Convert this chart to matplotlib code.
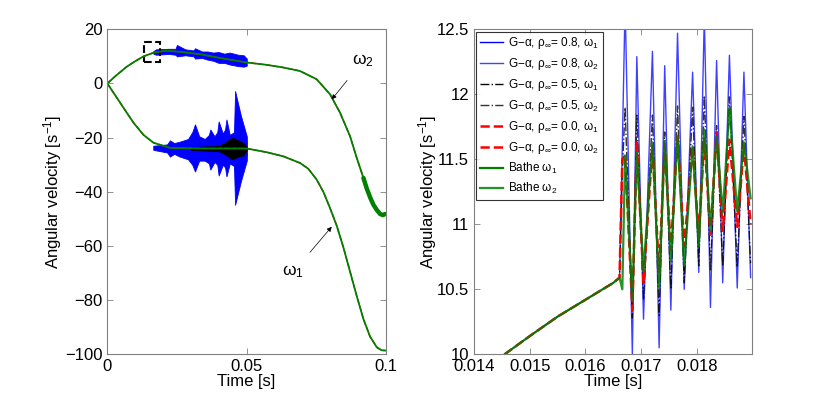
import numpy as np
import matplotlib
matplotlib.use('Agg')
import matplotlib.pyplot as plt
from matplotlib.patches import Rectangle

plt.rcParams['font.family'] = ['Liberation Sans', 'DejaVu Sans']
plt.rcParams['mathtext.fontset'] = 'custom'
plt.rcParams['mathtext.rm'] = 'Liberation Sans'
plt.rcParams['mathtext.it'] = 'Liberation Sans'

# ---- left panel: whole run, 0 .. 0.1 s ----
t_w2 = [0, 0.003, 0.007, 0.010, 0.013, 0.017, 0.0213, 0.027, 0.0333, 0.040, 0.050,
        0.057, 0.0632, 0.0692, 0.0752, 0.080, 0.0836, 0.0872, 0.0896, 0.092]
w2 = [0, 2.8, 6.2, 8.2, 10.0, 11.5, 12.1, 11.6, 10.8, 9.5, 7.75,
      6.9, 5.9, 4.6, 1.56, -4.0, -10.8, -19.5, -27.5, -34.9]
# wobbly end of omega_2 (thick green band)
t_w2_end = [0.092, 0.0932, 0.0945, 0.0956, 0.0968, 0.098, 0.099, 0.0998]
w2_end = [-34.9, -38.8, -42.3, -44.8, -46.7, -48.2, -48.6, -48.2]

t_w1 = [0, 0.0046, 0.0094, 0.0130, 0.0166, 0.0226, 0.0333, 0.050, 0.0573, 0.0632,
        0.0693, 0.0722, 0.0752, 0.0776, 0.080, 0.0824, 0.0848, 0.0872, 0.0896, 0.092,
        0.0944, 0.0968, 0.0985, 0.0998]
w1 = [0, -7.1, -14.5, -19.0, -21.9, -23.8, -24.0, -24.0, -25.4, -26.9,
      -29.4, -31.5, -35.5, -40.0, -46.0, -52.5, -60.5, -69.5, -78.5, -87.0,
      -93.5, -97.4, -98.5, -98.6]

# blue (rho=0.8) oscillation envelopes
t_band1 = [0.0165, 0.0215, 0.0225, 0.0240, 0.0260, 0.0290, 0.0305, 0.0315, 0.0330, 0.0350,
           0.0365, 0.0370, 0.0385, 0.0395, 0.0400, 0.0415, 0.0423, 0.0428, 0.0440, 0.0455,
           0.0459, 0.0480, 0.0501, 0.0502]
up_band1 = [-23.0, -22.5, -21.0, -22.0, -21.5, -20.5, -18.0, -15.1, -19.5, -20.5,
            -19.0, -17.0, -19.5, -18.0, -14.0, -18.5, -17.0, -13.3, -19.0, -18.0,
            -2.8, -12.0, -19.5, -24.0]
lo_band1 = [-24.5, -25.5, -27.0, -26.0, -27.0, -28.0, -30.0, -32.5, -28.5, -28.5,
            -29.5, -31.8, -29.0, -30.0, -34.0, -30.0, -31.0, -34.3, -29.5, -30.5,
            -44.8, -36.0, -28.5, -24.0]
t_band2 = [0.0165, 0.0175, 0.0220, 0.0245, 0.0250, 0.0280, 0.0310, 0.0315, 0.0340, 0.0360,
           0.0380, 0.0400, 0.0420, 0.0440, 0.0470, 0.0490, 0.0501]
up_band2 = [11.9, 12.6, 12.8, 12.8, 14.2, 12.6, 12.2, 13.0, 11.8, 11.8,
            11.4, 11.6, 11.0, 11.4, 10.6, 10.4, 9.2]
lo_band2 = [11.0, 10.6, 10.9, 10.6, 10.0, 10.4, 10.0, 9.2, 9.4, 8.8,
            8.4, 7.6, 7.6, 7.0, 6.4, 6.2, 6.6]
# black (rho=0.5) envelope on omega_1
t_band_k = [0.0300, 0.0400, 0.0420, 0.0440, 0.0450, 0.0470, 0.0490, 0.0501]
up_band_k = [-23.5, -23.0, -22.0, -20.5, -20.0, -21.0, -22.0, -23.5]
lo_band_k = [-24.5, -25.0, -26.0, -27.5, -28.0, -27.0, -26.5, -24.5]

# ---- right panel: zoom on omega_2 ----
t_ramp = [0.01455, 0.0150, 0.0155, 0.0160, 0.0165, 0.01661]
w2_ramp = [10.0, 10.14, 10.29, 10.42, 10.55, 10.59]
t_osc = [0.01666, 0.01671, 0.01684, 0.01692, 0.01704, 0.01720, 0.01732, 0.01742, 0.01753,
         0.01765, 0.01777, 0.01792, 0.01803, 0.01813, 0.01824, 0.01835, 0.01846, 0.01858,
         0.01872, 0.01884, 0.01896]
osc_08 = [11.6, 12.7, 10.0, 12.29, 10.27, 12.33, 10.05, 12.22, 10.34, 12.47, 10.5,
          12.17, 10.63, 12.6, 10.36, 12.26, 10.55, 12.3, 10.51, 12.17, 10.59]
osc_05 = [11.4, 11.9, 10.28, 11.84, 10.42, 11.84, 10.3, 11.71, 10.5, 11.91, 10.55,
          11.9, 10.68, 11.99, 10.65, 11.76, 10.68, 11.98, 10.67, 11.83, 10.7]
osc_00 = [11.5, 11.53, 10.34, 11.63, 10.55, 11.6, 10.63, 11.62, 10.8, 11.68, 10.83,
          11.6, 10.91, 11.66, 10.92, 11.71, 10.95, 11.65, 10.98, 11.6, 11.0]
osc_bathe = [10.5, 11.53, 10.42, 11.55, 10.64, 11.63, 10.51, 11.64, 10.72, 11.68, 10.68,
             11.6, 10.83, 11.73, 10.95, 11.68, 11.09, 11.89, 11.1, 11.63, 11.2]

labels = ['G\u2212\u03b1, \u03c1$_\\infty$= 0.8, \u03c9$_1$',
          'G\u2212\u03b1, \u03c1$_\\infty$= 0.8, \u03c9$_2$',
          'G\u2212\u03b1, \u03c1$_\\infty$= 0.5, \u03c9$_1$',
          'G\u2212\u03b1, \u03c1$_\\infty$= 0.5, \u03c9$_2$',
          'G\u2212\u03b1, \u03c1$_\\infty$= 0.0, \u03c9$_1$',
          'G\u2212\u03b1, \u03c1$_\\infty$= 0.0, \u03c9$_2$',
          'Bathe \u03c9$_1$', 'Bathe \u03c9$_2$']

BLUE = '#0000ff'
GREEN = '#008000'
RED = '#ff0000'
SPINE = '#808080'
FS = 12

fig = plt.figure(figsize=(8.3, 3.99), dpi=100)
ax1 = fig.add_axes([0.1293, 0.112, 0.3354, 0.8146])
ax2 = fig.add_axes([0.571, 0.112, 0.3347, 0.8146])

# left
ax1.fill_between(t_band2, lo_band2, up_band2, color=BLUE, lw=0.6, edgecolor=BLUE)
ax1.fill_between(t_band1, lo_band1, up_band1, color=BLUE, lw=0.6, edgecolor=BLUE)
ax1.fill_between(t_band_k, lo_band_k, up_band_k, color='k', lw=0.5, edgecolor='k')
for t, w in [(t_w1, w1), (t_w2, w2)]:
    ax1.plot(t, w, color=RED, ls='--', lw=1.0)
    ax1.plot(t, w, color=GREEN, lw=1.3)
ax1.plot(t_w2_end, w2_end, color=GREEN, lw=3.2, solid_capstyle='round')
ax1.add_patch(Rectangle((0.0132, 7.75), 0.0058, 7.65, fill=False, ls='--', lw=1.5, ec='k'))
ax1.annotate('\u03c9$_2$', xy=(0.0806, -5.9), xytext=(0.0919, 8.4), fontsize=12.5,
             ha='center', va='center',
             arrowprops=dict(arrowstyle='-|>', color='k', lw=0.5, mutation_scale=7,
                             shrinkA=8, shrinkB=0))
ax1.annotate('\u03c9$_1$', xy=(0.0806, -52.9), xytext=(0.0668, -69.6), fontsize=12.5,
             ha='center', va='center',
             arrowprops=dict(arrowstyle='-|>', color='k', lw=0.5, mutation_scale=7,
                             shrinkA=8, shrinkB=0))
ax1.set_xlim(0, 0.1)
ax1.set_ylim(-100, 20)
ax1.set_xticks([0, 0.05, 0.1])
ax1.set_xticklabels(['0', '0.05', '0.1'])
ax1.set_yticks([-100, -80, -60, -40, -20, 0, 20])
ax1.set_ylabel('Angular velocity [s$^{-1}$]', fontsize=FS, labelpad=0.5)

# right
t_right = t_ramp + t_osc
right_series = [
    (w1, dict(color=BLUE, lw=1.0), t_w1),
    (w2_ramp + osc_08, dict(color=BLUE, lw=1.0, alpha=0.75), t_right),
    (w1, dict(color='k', ls='-.', lw=1.0), t_w1),
    (w2_ramp + osc_05, dict(color='k', ls='-.', lw=1.0, alpha=0.8), t_right),
    (w1, dict(color=RED, ls='--', lw=1.8), t_w1),
    (w2_ramp + osc_00, dict(color=RED, ls='--', lw=1.8), t_right),
    (w1, dict(color=GREEN, lw=1.6), t_w1),
    (w2_ramp + osc_bathe, dict(color=GREEN, lw=1.6, alpha=0.85), t_right),
]
for (vals, style, tt), lab in zip(right_series, labels):
    ax2.plot(tt, vals, label=lab, **style)
ax2.set_xlim(0.014, 0.01898)
ax2.set_ylim(10, 12.5)
ax2.set_xticks([0.014, 0.015, 0.016, 0.017, 0.018])
ax2.set_xticklabels(['0.014', '0.015', '0.016', '0.017', '0.018'])
ax2.set_yticks([10, 10.5, 11, 11.5, 12, 12.5])
ax2.set_yticklabels(['10', '10.5', '11', '11.5', '12', '12.5'])
ax2.set_ylabel('Angular velocity [s$^{-1}$]', fontsize=FS, labelpad=-2)
leg = ax2.legend(loc='upper left', fontsize=8.5, frameon=True, fancybox=False,
                 borderaxespad=0.2, handlelength=2.0, handletextpad=0.4,
                 labelspacing=0.42, borderpad=0.3)
leg.get_frame().set_edgecolor('k')
leg.get_frame().set_linewidth(0.8)

for ax in (ax1, ax2):
    ax.set_xlabel('Time [s]', fontsize=FS, labelpad=0)
    ax.tick_params(direction='in', top=True, right=True, length=4, width=0.6,
                   color=SPINE, labelsize=FS, pad=3.5)
    for s in ax.spines.values():
        s.set_color(SPINE)
        s.set_linewidth(0.8)

fig.savefig('out.png', dpi=100)
